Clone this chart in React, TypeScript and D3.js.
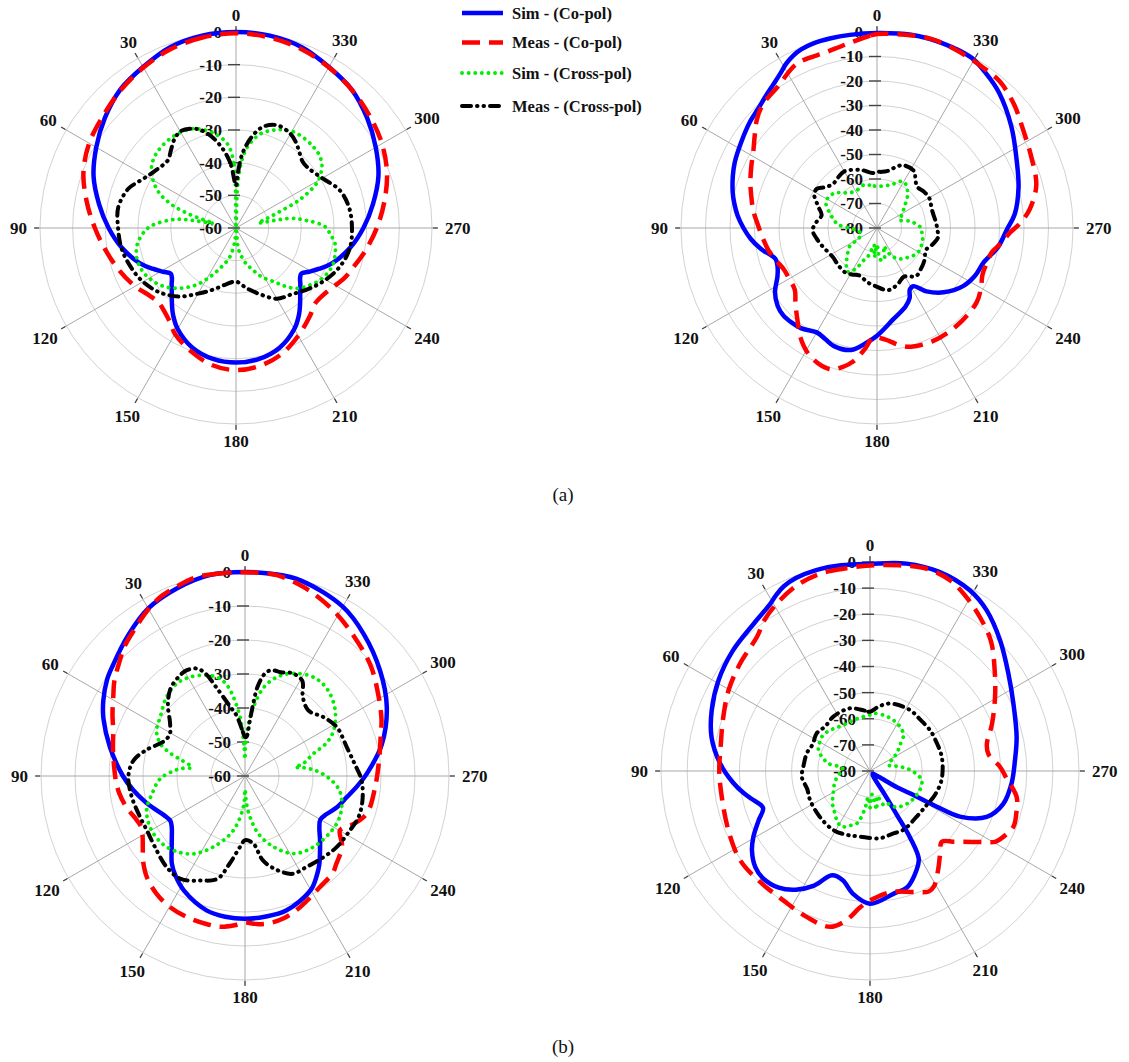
import React from 'react';
import * as d3 from 'd3';

type Pt = [number, number];

// ---------- tick labels ----------
const angleTicks = [0, 30, 60, 90, 120, 150, 180, 210, 240, 270, 300, 330];
const ringsA1 = [0, -10, -20, -30, -40, -50, -60];
const ringsA2 = [0, -10, -20, -30, -40, -50, -60, -70, -80];
const ringsB1 = [0, -10, -20, -30, -40, -50, -60];
const ringsB2 = [0, -10, -20, -30, -40, -50, -60, -70, -80];

const legendLabels = ['Sim - (Co-pol)', 'Meas - (Co-pol)', 'Sim - (Cross-pol)', 'Meas - (Cross-pol)'];
const captions = ['(a)', '(b)'];

// ---------- (a) left ----------
const a1SimCo: Pt[] = [[0,0],[10,-0.2],[20,-1.1],[30,-3.1],[40,-4.8],[50,-7.6],[60,-10.6],[70,-13.6],[80,-17.4],[90,-21],[100,-24.6],[110,-28.6],[116,-31.6],[121,-34],[125,-35.6],[128,-35.1],[131,-33.9],[135,-32.2],[140,-29.5],[144,-27.2],[150,-24.3],[160,-21],[170,-19.3],[180,-18.8],[190,-19.3],[200,-21],[210,-24.3],[216,-27.2],[220,-29.5],[225,-32.2],[229,-33.9],[232,-35.1],[235,-35.6],[239,-34],[244,-31.6],[250,-28.6],[260,-24.6],[270,-21],[280,-17.4],[290,-13.6],[300,-10.6],[310,-7.6],[320,-4.8],[330,-3.1],[340,-1.1],[350,-0.2]];
const a1MeasCo: Pt[] = [[0,-0.4],[10,-0.8],[20,-1.7],[30,-3.3],[40,-5],[50,-6.8],[60,-8.1],[70,-10.3],[80,-13.6],[90,-16.8],[100,-19.6],[110,-22],[120,-24.3],[128,-26.4],[134,-27.1],[140,-26.2],[145,-24.8],[150,-22.6],[160,-19.8],[170,-17.4],[180,-16.5],[190,-17.2],[200,-19],[210,-21.9],[220,-24.8],[226,-26.5],[232,-26.4],[238,-25.4],[245,-23.5],[252,-22],[260,-19.8],[270,-16.9],[280,-13.9],[290,-10.8],[300,-8.4],[310,-6.6],[320,-4.8],[330,-3.2],[340,-1.7],[350,-0.8]];
const a1SimCross: Pt[] = [[0,-62],[2,-40],[6,-34],[13,-30.3],[20,-27.8],[25,-26.6],[35,-26],[45,-26.4],[52,-27.5],[57,-29.2],[62,-31.8],[66,-34.6],[70,-39],[73,-44],[76,-50],[78,-53],[80,-47],[82,-41],[89,-33.7],[95,-30.8],[101,-29],[108,-28.2],[115,-28.5],[120,-29.3],[125,-30.4],[131,-32.3],[137,-34.8],[145,-38.7],[152,-43.1],[160,-47.5],[168,-51],[175,-56],[180,-62],[186,-54],[189,-52.2],[195,-49],[202,-46.1],[208,-43],[215,-40],[220,-36.8],[225,-33.8],[232,-31.5],[238,-29.8],[245,-28.6],[250,-28.3],[256,-28.7],[261,-29.3],[266,-31],[271,-32.8],[276,-38.2],[280,-43],[283,-53],[286,-51],[290,-46.7],[294,-38.6],[299,-31.8],[303,-29],[307,-27.1],[312,-26],[316,-25.7],[322,-25.5],[329,-25.7],[335,-26.8],[339,-27.9],[345,-30],[349,-32.5],[353,-36],[356,-41.2],[358,-48]];
const a1MeasCross: Pt[] = [[0,-47],[5,-40],[10,-35],[15,-31],[20,-28],[25,-26.5],[30,-25.9],[35,-27],[40,-29],[45,-30.6],[50,-30.4],[55,-29.6],[60,-28.5],[65,-26.8],[70,-24.9],[80,-23.4],[90,-23.9],[100,-24.4],[110,-25.6],[120,-27.1],[130,-29.4],[140,-32.6],[150,-36.8],[160,-40],[170,-42.5],[180,-43.6],[190,-41.3],[200,-38.4],[210,-35],[220,-33.5],[230,-31],[240,-28.3],[250,-26],[260,-24.6],[270,-24.5],[280,-24.8],[290,-26.2],[300,-29.5],[310,-31.3],[315,-31.2],[320,-29.8],[325,-28],[330,-26.7],[338,-26.1],[345,-27.9],[350,-31.5],[355,-37],[358,-43]];

// ---------- (a) right ----------
const a2SimCo: Pt[] = [[0,-0.4],[8,-0.4],[14,-0.3],[19,-0.3],[23,-0.8],[26,-1.8],[29,-3.4],[32,-5.6],[36,-7.8],[40,-9.5],[45,-11.3],[50,-12.4],[58,-14.5],[65,-16],[70,-17.4],[76,-19.3],[80,-20.8],[85,-22.9],[90,-25.5],[95,-28.3],[100,-31.7],[107,-36.7],[111,-36.5],[116,-34.8],[122,-30.9],[128,-28.5],[133,-27.7],[138,-28],[143,-28.7],[150,-30.8],[155,-30],[160,-28.7],[168,-29.1],[175,-33.1],[180,-36],[190,-42.1],[200,-45.9],[205,-48.5],[208,-51.5],[212,-52],[218,-47.2],[226,-42.2],[236,-37.6],[244,-35.5],[252,-34.3],[261,-30],[269,-27.1],[276,-23.4],[286,-19.9],[296,-16.6],[307,-11.3],[318,-5.6],[325,-2.7],[331,-0.5],[340,0],[350,0.1]];
const a2MeasCo: Pt[] = [[0,-0.8],[2,-1.4],[9,-3.8],[16,-5.3],[26,-5.4],[35,-9.5],[43,-11.4],[48,-14],[53,-17.5],[58,-20.5],[64,-22.9],[70,-25],[75,-26.8],[82,-29],[88,-31.2],[95,-33.2],[102,-34.9],[108,-36.8],[114,-38.4],[120,-38.6],[127,-38],[133,-34.5],[140,-29.7],[145,-25.5],[151,-21.7],[157,-19.6],[162,-19.3],[166,-21.5],[170,-24.8],[174,-30],[178,-35.2],[182,-35],[186,-33.7],[191,-31.2],[196,-29.6],[206,-28.5],[219,-28.5],[233,-29.2],[240,-31],[246,-32.9],[252,-33],[258,-32.1],[263,-29],[268,-25.7],[272,-21.5],[277,-17.2],[285,-12.7],[295,-10.6],[304,-8.1],[312,-4.7],[320,-2],[328,-1.4],[336,-0.5],[344,0.3],[353,-0.4]];
const a2SimCross: Pt[] = [[0,-63],[10,-62.2],[17,-61.6],[27,-62.5],[38,-61.8],[45,-59.5],[51,-57.5],[58,-56.5],[64,-56.8],[72,-59.6],[79,-62],[85,-64],[90,-68.7],[100,-72.5],[110,-73],[119,-71.7],[124,-66.5],[132,-63.8],[140,-60.5],[146,-58.5],[152,-61],[158,-66],[164,-68.7],[170,-73],[175,-68],[180,-73],[186,-67],[193,-66.7],[200,-72],[206,-68],[212,-65.5],[218,-64],[224,-63],[232,-61.5],[240,-60.5],[248,-60.5],[256,-60.8],[263,-61.5],[270,-62],[276,-64],[282,-66.5],[290,-70.3],[296,-69],[302,-67.5],[308,-65.8],[314,-63],[319,-61],[325,-59],[331,-58.2],[337,-60],[342,-61.4],[350,-62.5]];
const a2MeasCross: Pt[] = [[0,-57],[5,-57.5],[15,-55.5],[30,-53.3],[38,-54],[45,-54.6],[52,-53],[57,-50.7],[62,-51],[70,-54.5],[77,-56.8],[85,-55],[92,-53.7],[100,-55],[109,-56.6],[123,-58.4],[135,-58],[145,-57.7],[152,-58.5],[160,-59.3],[170,-57.5],[179,-56.2],[190,-54.2],[200,-55.5],[209,-57.3],[219,-54.7],[227,-55.5],[236,-56.6],[246,-58.1],[253,-56.5],[261,-54.8],[268,-55.3],[275,-55.8],[288,-56.4],[300,-55.4],[308,-55.8],[316,-56.5],[322,-54.5],[327,-52.3],[337,-52.2],[343,-54],[348,-56],[355,-57]];

// ---------- (b) left ----------
const b1SimCo: Pt[] = [[0,0],[10,0],[20,-1.3],[30,-3.1],[40,-6.3],[50,-9.3],[55,-10.5],[62,-12.8],[68,-15.1],[78,-19.4],[90,-24.1],[97,-26.8],[104,-29.5],[110,-31.7],[116,-33.6],[121,-34.4],[125,-33.7],[130,-31.9],[135,-29.5],[140,-26.5],[145,-24.3],[152,-21.8],[164,-18.9],[172,-18.2],[180,-18],[188,-18.2],[197,-18.6],[210,-21.3],[216,-24],[220,-26],[225,-28.8],[230,-31.2],[235,-33.3],[240,-34.4],[245,-33.5],[251,-31.5],[258,-29.5],[265,-26.8],[271,-24.2],[283,-18.7],[296,-13.6],[308,-9.6],[320,-5.6],[330,-2.5],[344,-0.2],[352,0]];
const b1MeasCo: Pt[] = [[0,-0.1],[7,0],[14,0.2],[20,-0.8],[25,-1.7],[30,-3.3],[37,-6],[43,-8],[48,-10.2],[54,-12.5],[59,-14.8],[65,-17],[71,-19],[78,-20.3],[85,-21.3],[92,-22],[98,-22.7],[105,-24],[112,-25.6],[116,-26],[120,-25.2],[125,-23.3],[130,-20.9],[136,-18.5],[143,-16.7],[150,-15.6],[158,-15.1],[166,-15],[171,-15.1],[176,-16],[180,-16.9],[184,-16.4],[188,-16.1],[195,-16.6],[203,-18.2],[214,-20.6],[222,-21.5],[226,-22.7],[234,-24.7],[240,-27.8],[243,-27],[246,-25.2],[253,-22.5],[265,-21.6],[278,-20.1],[286,-18.5],[293,-16.4],[302,-13.9],[311,-10.9],[322,-7.9],[332,-4.8],[342,-2],[351,-0.2]];
const b1SimCross: Pt[] = [[0,-55],[2,-50.5],[4.8,-42.6],[8.4,-36.5],[10.6,-33.4],[14.4,-30.4],[20.8,-28.3],[29,-26.7],[36.5,-26.2],[45,-27.3],[55,-29.6],[63,-30.8],[69,-33.3],[73,-37],[76,-40.8],[79,-43.5],[81,-44.1],[83,-41.5],[86,-38.9],[92,-35],[101,-32.1],[109,-29.4],[120,-28.2],[132,-28.9],[145,-32],[156,-37.2],[168,-43.7],[177,-50.9],[180,-56],[183,-52],[187,-47.9],[193,-42.6],[202,-37.5],[212,-33.1],[224,-31],[242,-29.6],[252,-30.1],[261,-31.8],[268,-35],[274,-38.9],[278,-42.5],[280,-45],[282,-42.5],[288,-38.9],[292,-34.2],[297,-30.8],[306,-27.2],[316,-24.9],[325,-24.6],[335,-26.7],[342,-29.4],[348,-33.3],[353,-39.6],[356,-44.6],[359,-50.5]];
const b1MeasCross: Pt[] = [[0,-48.5],[4,-46],[8,-42],[12,-39.2],[18,-32.5],[21,-27.8],[24,-25.4],[29,-24.5],[33,-24.8],[40,-26.1],[47,-29],[55,-33.1],[61,-34.7],[67,-34],[75,-30.1],[82,-26.9],[90,-25.7],[100,-26.1],[110,-26.8],[119,-27],[128,-26.3],[139,-24.7],[148,-24.3],[157,-26.6],[165,-28.7],[170,-33.8],[176,-39.1],[180,-41.1],[187,-40],[192,-34.6],[199,-30.7],[206,-28],[214,-27.7],[222,-27],[232,-25.9],[243,-25.2],[250,-24.5],[258,-24.7],[268,-25.7],[276,-27.5],[286,-28.9],[298,-29.4],[307,-31.2],[316,-33.2],[324,-31.1],[329,-27.3],[335,-26.7],[341,-27.7],[346,-27.9],[349,-29.3],[352,-33.5],[353.5,-38.6],[355,-43.6],[358,-48.5]];

// ---------- (b) right ----------
const b2SimCo: Pt[] = [[0,-0.7],[8,-0.5],[15,-0.4],[21,-0.9],[25,-2],[28,-3.6],[31,-5.6],[38,-8.1],[49,-10.2],[59,-12.4],[69,-15.1],[78,-18],[87,-22.5],[95,-27.5],[100,-31],[104,-34],[109,-36.7],[114,-33.3],[119.5,-28.7],[124,-25.5],[130,-22.7],[135,-22],[142,-23.3],[148,-26.4],[154,-31.2],[160,-37.5],[166,-36.9],[172,-32.6],[180,-29.2],[191,-32.2],[198,-33.4],[205,-38],[209,-41.5],[211,-50],[211.5,-60],[212,-70],[213,-78],[225,-78.5],[236,-76],[239,-68],[240.8,-62.5],[241.8,-52.5],[243.1,-41.4],[248.5,-32],[256,-27.5],[265,-25.6],[274,-24.4],[283,-22.4],[295,-19.4],[305,-15.3],[315,-9.5],[324,-4],[331,-1],[341,0.7],[350,0.6]];
const b2MeasCo: Pt[] = [[0,-1.3],[7.5,-1.9],[14,-2.1],[21,-3.5],[28.5,-6.4],[35,-9.5],[40,-12.8],[50.5,-15.5],[60,-17.6],[70,-20.2],[80,-22],[90,-22.3],[100,-22.4],[113,-21.2],[124.5,-19.7],[135,-20.2],[146,-20.4],[156.5,-19.1],[165.6,-18.4],[171,-22.2],[176,-27.8],[181.5,-31.1],[190,-33],[200,-30.7],[206,-28.7],[209,-29.5],[215,-34.4],[220,-38.3],[225.5,-41.4],[230,-37.8],[235,-32.7],[238,-28.7],[240.7,-24.8],[245,-22.5],[249,-21.1],[255,-21.9],[260,-23],[267,-27.7],[272,-30.3],[278,-34.2],[283,-34.1],[291,-30],[300.6,-24.4],[309,-18.6],[317,-12.1],[324.5,-7.6],[331,-3.9],[337,-0.9],[344,0.4],[352,-0.5]];
const b2SimCross: Pt[] = [[0,-58.5],[7,-59.1],[18,-59.5],[30,-59.7],[42,-58.5],[52,-57.4],[60,-57.8],[68,-58.7],[75,-61.5],[80,-64],[83,-69],[90,-69.5],[97,-67.8],[110,-65.5],[121,-63.6],[131,-61],[140,-59],[147,-57],[153,-56.1],[160,-57.8],[166,-59.3],[172,-65],[176,-70],[180,-66],[185,-71],[190,-65],[196,-70],[202,-66],[207,-66.1],[214,-63.5],[220,-62.2],[231,-60.8],[243,-59.9],[252,-59.5],[260,-59.9],[267,-62.5],[274,-65.9],[281,-70],[288,-72.6],[297,-70.7],[304,-67.5],[311,-64.8],[317,-61.2],[326,-59.5],[336,-58.5],[347,-58],[357,-57.9]];
const b2MeasCross: Pt[] = [[0,-57.3],[5,-56.8],[18,-54.8],[34,-54.9],[45,-55.8],[55,-55],[65,-55.8],[74,-54.9],[85,-54.5],[95,-53.8],[106,-55],[116,-54.5],[132,-54],[148,-53.4],[160,-54],[171,-54.6],[188,-54],[200,-54.5],[210,-54.1],[225,-55],[239,-54.7],[250,-53.5],[263,-52.4],[281,-52],[295,-52.3],[304,-52.2],[315,-52.5],[327,-52.1],[343,-53],[352,-55]];

const styles = [
  { color: '#0000ff', width: 4.5, dash: undefined as string | undefined, cap: 'butt' },
  { color: '#ff0000', width: 4.5, dash: '18 9', cap: 'butt' },
  { color: '#00ee00', width: 3.8, dash: '0.1 6.5', cap: 'round' },
  { color: '#000000', width: 4, dash: '9 6 0.5 6 0.5 6', cap: 'round' },
];

const deg = Math.PI / 180;
const FONT = '"Liberation Serif", "Times New Roman", Times, serif';

function Polar({ cx, cy, R, rings, series }: { cx: number; cy: number; R: number; rings: number[]; series: Pt[][] }) {
  const min = d3.min(rings) as number;
  const rScale = d3.scaleLinear().domain([min, 0]).range([0, R]);
  const line = d3
    .lineRadial<Pt>()
    .angle((d) => -d[0] * deg)
    .radius((d) => rScale(Math.max(d[1], min)))
    .curve(d3.curveCatmullRomClosed.alpha(0.5));
  return (
    <g transform={`translate(${cx},${cy})`}>
      {rings.filter((v) => v > min).map((v) => (
        <circle key={'c' + v} r={rScale(v)} fill="none" stroke="#d2d2d2" strokeWidth={1} />
      ))}
      {angleTicks.map((a) => (
        <line key={'s' + a} x1={0} y1={0} x2={-Math.sin(a * deg) * (R + 5)} y2={-Math.cos(a * deg) * (R + 5)} stroke="#a8a8a8" strokeWidth={1} />
      ))}
      {angleTicks.map((a) => (
        <line key={'t' + a} x1={-Math.sin(a * deg) * (R + 1)} y1={-Math.cos(a * deg) * (R + 1)} x2={-Math.sin(a * deg) * (R + 6)} y2={-Math.cos(a * deg) * (R + 6)} stroke="#444" strokeWidth={1.2} />
      ))}
      {rings.map((v) => (
        <line key={'rt' + v} x1={-8} x2={4} y1={-rScale(v)} y2={-rScale(v)} stroke="#444" strokeWidth={1.4} />
      ))}
      {rings.map((v) => (
        <text key={'rl' + v} x={-14} y={-rScale(v)} dy="0.35em" textAnchor="end" fontFamily={FONT} fontWeight="bold" fontSize={17} fill="#111">
          {String(v)}
        </text>
      ))}
      {angleTicks.map((a) => {
        const txt = String(a);
        const w = txt.length * 8.5;
        const rl = R + 17 + Math.abs(Math.sin(a * deg)) * (w / 2 - 4);
        return (
          <text key={'al' + a} x={-Math.sin(a * deg) * rl} y={-Math.cos(a * deg) * rl} dy="0.35em" textAnchor="middle" fontFamily={FONT} fontWeight="bold" fontSize={17} fill="#111">
            {txt}
          </text>
        );
      })}
      {series.map((pts, i) => (
        <path
          key={'p' + i}
          d={line(pts) || ''}
          fill="none"
          stroke={styles[i].color}
          strokeWidth={styles[i].width}
          strokeDasharray={styles[i].dash}
          strokeLinecap={styles[i].cap as any}
          strokeLinejoin="round"
        />
      ))}
    </g>
  );
}

export default function App() {
  const legendY = [13, 42.5, 73, 106];
  return (
    <svg width={1129} height={1062} style={{ position: 'absolute', left: 0, top: 0, background: '#fff' }}>
      <rect x={0} y={0} width={1129} height={1062} fill="#fff" />
      <Polar cx={236} cy={228} R={196} rings={ringsA1} series={[a1SimCo, a1MeasCo, a1SimCross, a1MeasCross]} />
      <Polar cx={877} cy={228} R={196} rings={ringsA2} series={[a2SimCo, a2MeasCo, a2SimCross, a2MeasCross]} />
      <Polar cx={245} cy={776} R={204} rings={ringsB1} series={[b1SimCo, b1MeasCo, b1SimCross, b1MeasCross]} />
      <Polar cx={870} cy={771} R={209} rings={ringsB2} series={[b2SimCo, b2MeasCo, b2SimCross, b2MeasCross]} />
      {legendLabels.map((lab, i) => (
        <g key={lab}>
          <line x1={462} x2={503} y1={legendY[i]} y2={legendY[i]} stroke={styles[i].color} strokeWidth={styles[i].width} strokeDasharray={styles[i].dash} strokeLinecap={styles[i].cap as any} />
          <text x={512} y={legendY[i]} dy="0.35em" fontFamily={FONT} fontWeight="bold" fontSize={16.5} fill="#111">
            {lab}
          </text>
        </g>
      ))}
      <text x={563} y={501} textAnchor="middle" fontFamily={FONT} fontSize={19} fill="#111">{captions[0]}</text>
      <text x={563} y={1053} textAnchor="middle" fontFamily={FONT} fontSize={19} fill="#111">{captions[1]}</text>
    </svg>
  );
}
